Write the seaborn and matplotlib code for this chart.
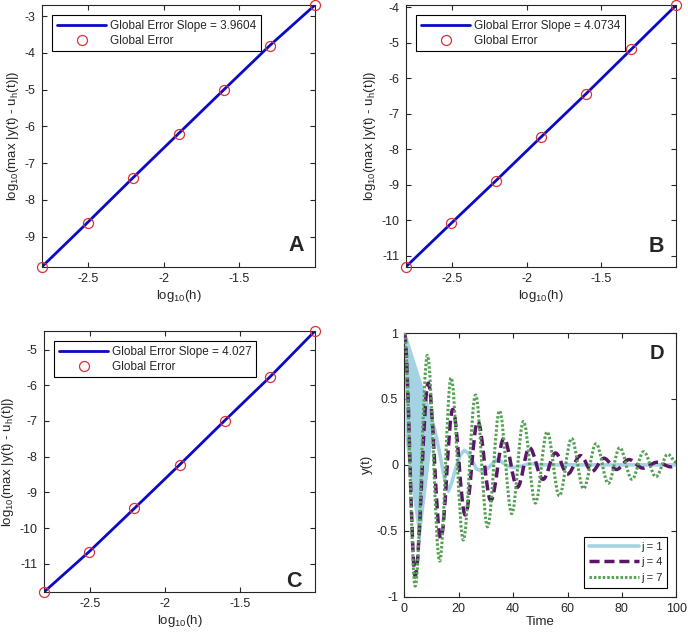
import matplotlib
matplotlib.use("Agg")
import matplotlib.pyplot as plt
import seaborn as sns
from matplotlib.lines import Line2D
from matplotlib.path import Path
from matplotlib.patches import PathPatch
from matplotlib.ticker import FixedLocator, MultipleLocator, FuncFormatter

# ---------------- data ----------------
log_h = [-2.806, -2.505, -2.204, -1.903, -1.602, -1.301, -1.0]
err_A = [-9.82, -8.62, -7.40, -6.20, -5.00, -3.81, -2.70]
err_B = [-11.31, -10.09, -8.88, -7.65, -6.43, -5.18, -3.93]
err_C = [-11.79, -10.66, -9.45, -8.23, -6.99, -5.77, -4.48]
slope_labels = ["3.9604", "4.0734", "4.027"]
panel_letters = ["A", "B", "C", "D"]
x_ticks_err = [-2.5, -2.0, -1.5]

# panel D: j = 1 (fast oscillating band at start, then smooth decay)
j1_band_t = [0, 0.3, 0.9, 2, 3, 4, 5, 5.5, 6, 7, 8, 9, 10, 10.7]
j1_band_up = [1.0, 0.98, 0.94, 0.87, 0.80, 0.74, 0.67, 0.64, 0.61, 0.54, 0.48, 0.41, 0.35, 0.30]
j1_band_lo = [1.0, 0.20, 0.08, -0.09, -0.24, -0.39, -0.54, -0.62, -0.53, -0.35, -0.18, 0.0, 0.18, 0.30]
j1_t = [0, 2, 4, 6, 8, 10, 11, 12, 13, 14, 15, 16.2, 17.5, 19, 20.5, 22, 23.5, 25,
        26.5, 28.5, 30.5, 32, 34, 36, 38, 40, 43, 46, 50, 60, 70, 80, 90, 100]
j1_y = [1.0, 0.87, 0.74, 0.61, 0.48, 0.35, 0.28, 0.19, 0.09, -0.02, -0.12, -0.20, -0.13,
        -0.02, 0.07, 0.11, 0.09, 0.03, -0.03, -0.05, -0.03, 0.0, 0.04, 0.02, -0.01, -0.02,
        -0.01, 0.01, 0.0, 0.0, 0.0, 0.0, 0.0, 0.0]
# j = 4 (extrema)
j4_t = [0, 4.0, 8.8, 13.4, 17.8, 22.4, 27.0, 31.8, 36.6, 41.6, 46.0, 51.0, 55.6, 60.0,
        64.8, 69.0, 73.4, 78.0, 82.6, 87.8, 93.0, 98.0, 100]
j4_y = [1.0, -0.84, 0.62, -0.56, 0.42, -0.38, 0.33, -0.27, 0.20, -0.17, 0.13, -0.11, 0.09,
        -0.07, 0.07, -0.05, 0.05, -0.035, 0.04, -0.025, 0.02, -0.015, 0.0]
# j = 7 (extrema)
j7_t = [0, 4.0, 8.5, 13.0, 17.2, 21.7, 26.2, 30.6, 35.0, 39.5, 43.8, 48.2, 52.5, 57.0,
        61.5, 65.9, 70.5, 75.0, 79.2, 83.7, 88.0, 92.5, 96.9, 100]
j7_y = [1.0, -0.92, 0.83, -0.73, 0.66, -0.57, 0.53, -0.47, 0.41, -0.37, 0.33, -0.29, 0.25,
        -0.235, 0.20, -0.18, 0.16, -0.14, 0.13, -0.11, 0.10, -0.09, 0.08, 0.02]
d_labels = ["j = 1", "j = 4", "j = 7"]
d_xticks = [0, 20, 40, 60, 80, 100]
d_yticks = [-1, -0.5, 0, 0.5, 1]

# ---------------- style ----------------
sns.set_style("ticks")
plt.rcParams["font.family"] = ["Liberation Sans", "DejaVu Sans"]
plt.rcParams["mathtext.fontset"] = "custom"
plt.rcParams["mathtext.rm"] = "Liberation Sans"
plt.rcParams["mathtext.it"] = "Liberation Sans:italic"
plt.rcParams["axes.unicode_minus"] = False

BLUE = "#0a0ac8"
RED = "#d8323a"
LBLUE = "#a6d3e4"
PURPLE = "#5a1768"
GREEN = "#55a055"
SPINE = "#262626"

W, H = 688, 632
fig = plt.figure(figsize=(W / 100, H / 100), dpi=100)

def px_axes(l, t, r, b):
    return fig.add_axes([l / W, 1 - b / H, (r - l) / W, (b - t) / H])

axA = px_axes(42, 5, 315, 266.7)
axB = px_axes(406, 5, 676.3, 266.7)
axC = px_axes(44, 331, 315, 592)
axD = px_axes(404.3, 333, 676.3, 596.7)

gfmt = FuncFormatter(lambda v, p: "%g" % v)

def style_axes(ax):
    for s in ax.spines.values():
        s.set_visible(True)
        s.set_color(SPINE)
        s.set_linewidth(0.8)
    ax.tick_params(direction="in", top=True, right=True, length=3.5, width=0.8,
                   labelsize=9, colors=SPINE, pad=4.5)
    ax.xaxis.set_major_formatter(gfmt)
    ax.yaxis.set_major_formatter(gfmt)

ylab = r"log$\mathregular{_{10}}$(max |y(t) - u$\mathregular{_h}$(t)|)"
xlab = r"log$\mathregular{_{10}}$(h)"

err_sets = [(axA, err_A), (axB, err_B), (axC, err_C)]
letter_pos = [(0.960, 0.060), (0.955, 0.058), (0.952, 0.020)]
for i, (ax, err) in enumerate(err_sets):
    sns.lineplot(x=log_h, y=err, ax=ax, color=BLUE, lw=2.0, sort=False, estimator=None)
    ax.plot(log_h, err, ls="none", marker="o", ms=7.2, mfc="none", mec=RED, mew=0.9,
            clip_on=False, zorder=4)
    ax.set_xlim(min(log_h), max(log_h))
    ax.set_ylim(min(err), max(err))
    ax.xaxis.set_major_locator(FixedLocator(x_ticks_err))
    ax.yaxis.set_major_locator(MultipleLocator(1))
    style_axes(ax)
    ax.set_xlabel(xlab, fontsize=9.5, labelpad=2)
    ax.set_ylabel(ylab, fontsize=9.5, labelpad=3)
    handles = [Line2D([], [], color=BLUE, lw=2.0),
               Line2D([], [], ls="none", marker="o", ms=7.2, mfc="none", mec=RED, mew=0.9)]
    labels = ["Global Error Slope = " + slope_labels[i], "Global Error"]
    axw = ax.get_position().width * W
    axh = ax.get_position().height * H
    leg = ax.legend(handles, labels, loc="upper left",
                    bbox_to_anchor=(10 / axw, 1 - 10 / axh), borderaxespad=0,
                    fontsize=8.5, handlelength=4.2, handletextpad=0.3,
                    borderpad=0.4, labelspacing=0.25, fancybox=False, framealpha=1,
                    edgecolor="black")
    leg.get_frame().set_linewidth(0.8)
    lx, ly = letter_pos[i]
    ax.text(lx, ly, panel_letters[i], transform=ax.transAxes, ha="right", va="baseline",
            fontsize=15.5, fontweight="bold")

# ---------------- panel D ----------------
def smooth_path(ts, ys, k=0.36):
    """Bezier curve through the extrema with flat tangents at each extremum."""
    verts = [(ts[0], ys[0])]
    codes = [Path.MOVETO]
    for a in range(len(ts) - 1):
        dt = ts[a + 1] - ts[a]
        verts += [(ts[a] + k * dt, ys[a]), (ts[a + 1] - k * dt, ys[a + 1]),
                  (ts[a + 1], ys[a + 1])]
        codes += [Path.CURVE4] * 3
    return Path(verts, codes)

ax = axD
ax.fill_between(j1_band_t, j1_band_lo, j1_band_up, color=LBLUE, lw=0, zorder=1)
sns.lineplot(x=j1_t, y=j1_y, ax=ax, color=LBLUE, lw=2.6, sort=False, estimator=None, zorder=2)
p4 = PathPatch(smooth_path(j4_t, j4_y), fill=False, edgecolor=PURPLE, lw=2.5,
               linestyle=(0, (2.9, 1.4)), capstyle="butt", joinstyle="round", zorder=3)
ax.add_patch(p4)
p7 = PathPatch(smooth_path(j7_t, j7_y), fill=False, edgecolor=GREEN, lw=2.2,
               linestyle=(0, (0.8, 0.65)), capstyle="butt", joinstyle="round", zorder=4)
ax.add_patch(p7)
ax.set_xlim(0, 100)
ax.set_ylim(-1, 1)
ax.xaxis.set_major_locator(FixedLocator(d_xticks))
ax.yaxis.set_major_locator(FixedLocator(d_yticks))
style_axes(ax)
ax.set_xlabel("Time", fontsize=9.5, labelpad=1)
ax.set_ylabel("y(t)", fontsize=9.5, labelpad=3)
hj1 = Line2D([], [], color=LBLUE, lw=2.6)
hj4 = Line2D([], [], color=PURPLE, lw=2.5, dashes=[2.9, 1.4])
hj7 = Line2D([], [], color=GREEN, lw=2.2, dashes=[0.8, 0.65])
axw = ax.get_position().width * W
axh = ax.get_position().height * H
leg = ax.legend([hj1, hj4, hj7], d_labels, loc="lower right",
                bbox_to_anchor=(1 - 9 / axw, 9 / axh), borderaxespad=0,
                fontsize=8, handlelength=4.5, handletextpad=0.15, borderpad=0.45,
                labelspacing=0.5, fancybox=False, framealpha=1, edgecolor="black")
leg.get_frame().set_linewidth(0.8)
ax.text(0.957, 0.90, panel_letters[3], transform=ax.transAxes, ha="right", va="baseline",
        fontsize=14.5, fontweight="bold")

fig.savefig("out.png", dpi=100)
